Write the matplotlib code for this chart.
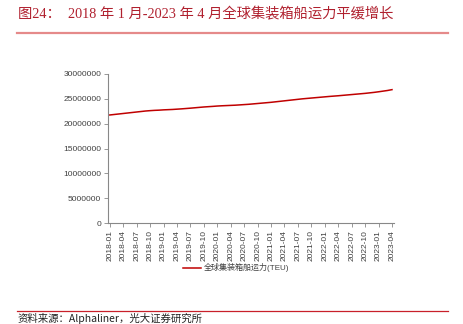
import matplotlib
matplotlib.use("Agg")
import matplotlib.pyplot as plt
from matplotlib.lines import Line2D

# Global container-ship fleet capacity (TEU), monthly 2018-01 .. 2023-04
months = [f"{y}-{m:02d}" for y in range(2018, 2024) for m in range(1, 13)][:64]
capacity_m = [
    21.75, 21.85, 21.95, 22.05, 22.15, 22.25, 22.35, 22.45, 22.55, 22.62, 22.68, 22.72,
    22.78, 22.82, 22.86, 22.92, 22.98, 23.05, 23.12, 23.20, 23.28, 23.36, 23.42, 23.48,
    23.55, 23.60, 23.64, 23.68, 23.72, 23.78, 23.84, 23.90, 23.98, 24.06, 24.14, 24.22,
    24.30, 24.40, 24.50, 24.60, 24.70, 24.80, 24.90, 25.00, 25.08, 25.16, 25.24, 25.32,
    25.40, 25.48, 25.55, 25.62, 25.70, 25.78, 25.86, 25.94, 26.02, 26.10, 26.20, 26.30,
    26.42, 26.55, 26.68, 26.85,
]
capacity = [v * 1e6 for v in capacity_m]
y_ticks = [0, 5000000, 10000000, 15000000, 20000000, 25000000, 30000000]
series_label = "全球集装箱船运力(TEU)"
title = "图24：  2018 年 1 月-2023 年 4 月全球集装箱船运力平缓增长"
source = "资料来源：Alphaliner，光大证券研究所"

W, H = 463, 324
fig = plt.figure(figsize=(W / 100, H / 100), dpi=100)
ax = fig.add_axes([108 / W, 1 - 223 / H, (394 - 108) / W, (223 - 74) / H])

x = list(range(len(months)))
ax.plot(x, capacity, color="#c00000", lw=1.1)

ax.set_xlim(-0.4, len(months) - 1 + 0.45)
ax.set_ylim(0, 30000000)
ax.set_yticks(y_ticks)
ax.set_yticklabels([str(v) for v in y_ticks])
ax.set_xticks(x[::3])
ax.set_xticklabels(months[::3], rotation=90)

for lab in ax.get_xticklabels() + ax.get_yticklabels():
    lab.set_fontfamily("Liberation Sans")
    lab.set_fontsize(6)
    lab.set_color("#404040")

for side in ("top", "right"):
    ax.spines[side].set_visible(False)
for side in ("left", "bottom"):
    ax.spines[side].set_color("#888888")
    ax.spines[side].set_linewidth(0.8)
ax.tick_params(axis="both", direction="out", length=3, width=0.6, color="#888888", pad=2)

handle = Line2D([], [], color="#c00000", lw=1.1)
fig.legend([handle], [series_label], loc="center",
           bbox_to_anchor=(236 / W, 1 - 268 / H), frameon=False,
           prop={"family": ["Liberation Sans", "Noto Sans CJK SC"], "size": 5.8},
           handlelength=2.2, handletextpad=0.4, labelcolor="#404040")

# Heading, rule lines and source note
fig.text(18 / W, 1 - 14 / H, title, ha="left", va="center", color="#b0202e",
         fontsize=10.3, family=["Liberation Serif", "Noto Sans CJK SC"])
fig.add_artist(Line2D([17 / W, 448 / W], [1 - 33.3 / H] * 2, color="#e58a8a", lw=1.6))
fig.add_artist(Line2D([17 / W, 448 / W], [1 - 311.3 / H] * 2, color="#c8202a", lw=0.9))
fig.text(18 / W, 1 - 323.5 / H, source, ha="left", va="bottom", color="#222222",
         fontsize=7.5, family=["Noto Sans CJK SC", "Liberation Serif"])

fig.savefig("out.png", dpi=100)
